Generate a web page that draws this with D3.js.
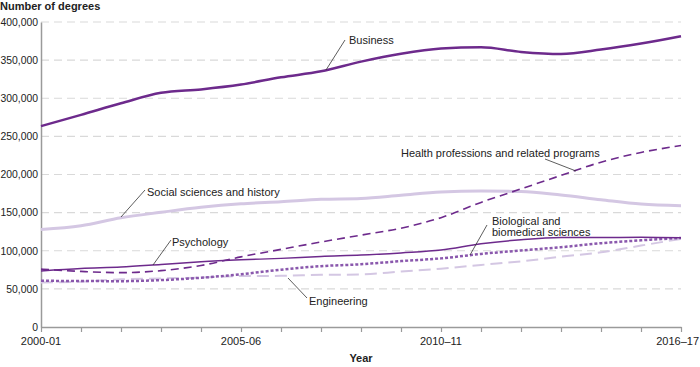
<!DOCTYPE html>
<html>
<head>
<meta charset="utf-8">
<script src="https://cdn.jsdelivr.net/npm/d3@7"></script>
<style>
  body { margin: 0; background: #fff; }
  svg { font-family: "Liberation Sans", Arial, sans-serif; }
</style>
</head>
<body>
<svg id="chart"></svg>
<script>
// school years, 2000-01 .. 2016-17
const years = d3.range(2000, 2017);
const tickYears = [2000, 2005, 2010, 2016];
const tickLabels = ["2000-01", "2005-06", "2010\u201311", "2016\u201317"];
const yTicks = [0, 50000, 100000, 150000, 200000, 250000, 300000, 350000, 400000];

const business = [263500, 278200, 293400, 307100, 311600, 318000, 327500, 335300, 348000, 358300, 365100, 366800, 360800, 358100, 363800, 371700, 381400];
const health = [75900, 72900, 71300, 73900, 80700, 92000, 101800, 111500, 120500, 129600, 143400, 163400, 181100, 198800, 216200, 228900, 238000];
const social = [128000, 132900, 143300, 150400, 156900, 161500, 164200, 167400, 168500, 172800, 177100, 178500, 177800, 173100, 166900, 161200, 159100];
const psychology = [73600, 76800, 78700, 82100, 85600, 88100, 90000, 92600, 94300, 97200, 100900, 109100, 114400, 117300, 117400, 117600, 116900];
const biology = [60600, 60300, 60100, 61500, 64600, 69200, 75200, 79800, 82300, 86400, 90000, 95800, 100400, 104600, 109900, 113700, 116800];
const engineering = [58300, 59500, 62500, 63600, 64900, 66800, 67100, 68400, 68900, 72700, 76400, 81400, 86000, 92200, 97900, 106800, 115600];

const dark = "#6d2a8c", light = "#d4c7e3", mid = "#8a58ad";

const series = [
  { name: "Social sciences and history", values: social, color: light, width: 3, dash: null },
  { name: "Engineering", values: engineering, color: light, width: 2, dash: "12,6" },
  { name: "Biological and biomedical sciences", values: biology, color: mid, width: 2.5, dash: "3,2" },
  { name: "Psychology", values: psychology, color: dark, width: 1.5, dash: null },
  { name: "Health professions and related programs", values: health, color: dark, width: 1.6, dash: "8,5" },
  { name: "Business", values: business, color: dark, width: 2.5, dash: null }
];

const width = 700, height = 367;
const margin = { top: 22, right: 19, bottom: 40, left: 41 };

const svg = d3.select("#chart").attr("width", width).attr("height", height);

const x = d3.scaleLinear().domain([2000, 2016]).range([margin.left, width - margin.right]);
const y = d3.scaleLinear().domain([0, 400000]).range([height - margin.bottom, margin.top]);

// grid
svg.append("g")
  .selectAll("line")
  .data(yTicks.filter(d => d > 0))
  .join("line")
  .attr("x1", margin.left).attr("x2", width - margin.right)
  .attr("y1", d => y(d)).attr("y2", d => y(d))
  .attr("stroke", "#d9d9d9").attr("stroke-width", 1.2)
  .attr("stroke-dasharray", "8,5");

// y axis
const yAxis = svg.append("g")
  .attr("transform", `translate(${margin.left},0)`)
  .call(d3.axisLeft(y).tickValues(yTicks).tickSize(0).tickPadding(3).tickFormat(d3.format(",")));
yAxis.select(".domain").attr("stroke", "#9a9a9a").attr("stroke-width", 1.5);
yAxis.selectAll("text").attr("font-size", 10.4).attr("fill", "#222");

// x axis
const xAxis = svg.append("g")
  .attr("transform", `translate(0,${y(0)})`)
  .call(d3.axisBottom(x).tickValues(years).tickSize(5).tickSizeOuter(0).tickFormat(""));
xAxis.select(".domain").attr("stroke", "#9a9a9a").attr("stroke-width", 1.5);
xAxis.selectAll(".tick line").attr("stroke", "#9a9a9a").attr("stroke-width", 1.2);

svg.append("g")
  .selectAll("text")
  .data(tickYears)
  .join("text")
  .attr("x", d => x(d))
  .attr("y", y(0) + 18)
  .attr("text-anchor", (d, i) => i === tickYears.length - 1 ? "end" : "middle")
  .attr("dx", (d, i) => i === tickYears.length - 1 ? 18 : 0)
  .attr("font-size", 11).attr("fill", "#222")
  .text((d, i) => tickLabels[i]);

// titles
svg.append("text").attr("x", 0).attr("y", 10)
  .attr("font-size", 11).attr("font-weight", "bold").attr("fill", "#222")
  .text("Number of degrees");
svg.append("text").attr("x", (margin.left + width - margin.right) / 2).attr("y", 362)
  .attr("text-anchor", "middle")
  .attr("font-size", 11).attr("font-weight", "bold").attr("fill", "#222")
  .text("Year");

// lines
const line = d3.line()
  .x((d, i) => x(years[i]))
  .y(d => y(d))
  .curve(d3.curveMonotoneX);

svg.append("g")
  .selectAll("path")
  .data(series)
  .join("path")
  .attr("d", d => line(d.values))
  .attr("fill", "none")
  .attr("stroke", d => d.color)
  .attr("stroke-width", d => d.width)
  .attr("stroke-dasharray", d => d.dash);

// labels with leader lines
const labels = [
  { lines: ["Business"], tx: 349, ty: 44, x1: 326, y1: 70, x2: 345, y2: 40 },
  { lines: ["Health professions and related programs"], tx: 401, ty: 157, x1: 576, y1: 171, x2: 545, y2: 159 },
  { lines: ["Social sciences and history"], tx: 147, ty: 196, x1: 121, y1: 217, x2: 145, y2: 190 },
  { lines: ["Psychology"], tx: 172, ty: 246, x1: 153, y1: 265, x2: 171, y2: 240 },
  { lines: ["Biological and", "biomedical sciences"], tx: 492, ty: 225, x1: 470, y1: 255, x2: 487, y2: 225 },
  { lines: ["Engineering"], tx: 309, ty: 305, x1: 288, y1: 278, x2: 307, y2: 298 }
];

const lab = svg.append("g");
lab.selectAll("line")
  .data(labels)
  .join("line")
  .attr("x1", d => d.x1).attr("y1", d => d.y1)
  .attr("x2", d => d.x2).attr("y2", d => d.y2)
  .attr("stroke", "#333").attr("stroke-width", 0.8);

lab.selectAll("text")
  .data(labels)
  .join("text")
  .attr("x", d => d.tx).attr("y", d => d.ty)
  .attr("font-size", 11).attr("fill", "#222")
  .each(function(d) {
    d3.select(this).selectAll("tspan")
      .data(d.lines)
      .join("tspan")
      .attr("x", d.tx)
      .attr("dy", (t, i) => i === 0 ? 0 : 11)
      .text(t => t);
  });
</script>
</body>
</html>
